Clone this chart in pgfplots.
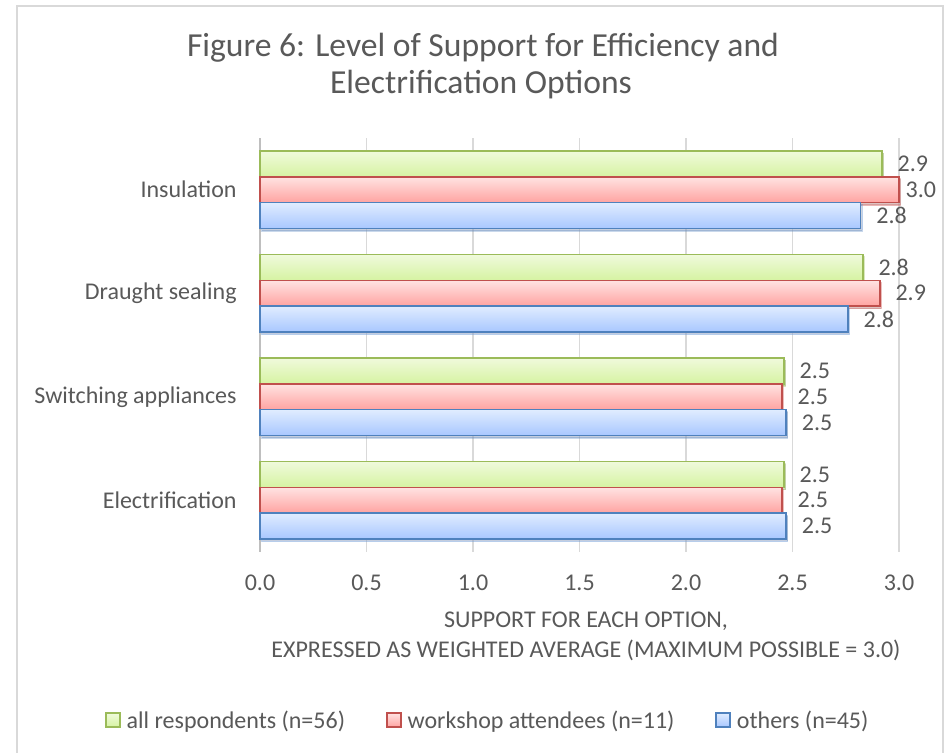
\documentclass[border=0pt]{standalone}
\usepackage{fontspec}
\setmainfont{Carlito}
\usepackage{pgfplots}
\pgfplotsset{compat=1.18}
\usetikzlibrary{shadows}

\definecolor{txt}{HTML}{595959}
\definecolor{gridc}{HTML}{D9D9D9}
\definecolor{axisc}{HTML}{BFBFBF}
\definecolor{frame}{HTML}{D9D9D9}
\definecolor{gline}{HTML}{9BBB59}
\definecolor{gtop}{HTML}{F0FADC}
\definecolor{gbot}{HTML}{D6F3A2}
\definecolor{rline}{HTML}{C0504D}
\definecolor{rtop}{HTML}{FFE3E2}
\definecolor{rbot}{HTML}{FFA3A1}
\definecolor{bline}{HTML}{4F81BD}
\definecolor{btop}{HTML}{E0ECFF}
\definecolor{bbot}{HTML}{A8C7FF}

\tikzset{
  gbar/.style={draw=gline, line width=0.75pt, top color=gtop, bottom color=gbot},
  rbar/.style={draw=rline, line width=0.75pt, top color=rtop, bottom color=rbot},
  bbar/.style={draw=bline, line width=0.75pt, top color=btop, bottom color=bbot},
  barshadow/.style={drop shadow={shadow xshift=0.8pt, shadow yshift=-1.2pt, opacity=0.3, fill=black!60}},
  numfmt/.style={/pgf/number format/fixed, /pgf/number format/fixed zerofill,
    /pgf/number format/precision=1, /pgf/number format/assume math mode=true},
}
% one bar per plot, so every bar gets its own vertical gradient
\pgfplotsset{
  allbar/.style={gbar, barshadow, bar shift=0.25, forget plot},
  wsbar/.style={rbar, barshadow, bar shift=0, forget plot},
  otbar/.style={bbar, barshadow, bar shift=-0.25, forget plot},
}

\begin{document}
\begin{tikzpicture}
\useasboundingbox (0pt,0pt) rectangle (475pt,376.5pt);
\fill[white] (0pt,0pt) rectangle (475pt,376.5pt);
\draw[frame, line width=0.75pt] (8.5pt,-3pt) rectangle (471.5pt,373.5pt);

% title
\node[anchor=base, text=txt, font=\fontsize{16.8}{20}\selectfont] at (241.5pt,348pt)
  {Figure 6: Level of Support for Efficiency and};
\node[anchor=base, text=txt, font=\fontsize{16.8}{20}\selectfont] at (240.5pt,329.5pt)
  {Electrification Options};

\begin{axis}[
  at={(130pt,100.5pt)}, anchor=south west,
  scale only axis, width=319.5pt, height=207pt,
  xbar, bar width=0.25,
  xmin=0, xmax=3, ymin=-0.5, ymax=3.5,
  xtick={0,0.5,...,3},
  ytick={0,1,2,3},
  yticklabels={Electrification, Switching appliances, Draught sealing, Insulation},
  xticklabel style={numfmt, anchor=center, yshift=-15.5pt, text=txt, font=\fontsize{12}{14}\selectfont},
  yticklabel style={anchor=east, inner sep=0pt, xshift=-11.5pt, text=txt, font=\fontsize{12}{14}\selectfont},
  major tick length=0pt,
  xmajorgrids, grid style={gridc, line width=0.75pt},
  axis lines*=left,
  x axis line style={draw=none},
  y axis line style={draw=axisc, line width=0.75pt, -},
  clip=false,
  nodes near coords,
  every node near coord/.append style={numfmt, anchor=west, inner sep=0pt, xshift=7.5pt, text=txt, font=\fontsize{12}{14}\selectfont},
  legend columns=3,
  legend style={at={(0.355,-0.406)}, anchor=center, draw=none, fill=none,
    font=\fontsize{12}{14}\selectfont, text=txt,
    /tikz/every odd column/.append style={column sep=3pt},
    /tikz/every even column/.append style={column sep=20.5pt},
    nodes={inner sep=0pt, text depth=0pt}},
  legend cell align=left,
]
% all respondents (n=56)
\addplot[allbar] coordinates {(2.92,3)};
\addplot[allbar] coordinates {(2.83,2)};
\addplot[allbar] coordinates {(2.46,1)};
\addplot[allbar] coordinates {(2.46,0)};
% workshop attendees (n=11); the label of the full-score bar sits closer to it
\addplot[wsbar, every node near coord/.append style={xshift=-4.5pt}] coordinates {(3.00,3)};
\addplot[wsbar] coordinates {(2.91,2)};
\addplot[wsbar] coordinates {(2.45,1)};
\addplot[wsbar] coordinates {(2.45,0)};
% others (n=45)
\addplot[otbar] coordinates {(2.82,3)};
\addplot[otbar] coordinates {(2.76,2)};
\addplot[otbar] coordinates {(2.47,1)};
\addplot[otbar] coordinates {(2.47,0)};

\addlegendimage{legend image code/.code={\draw[gbar] (0pt,-3.5pt) rectangle (7pt,3.5pt);}}
\addlegendimage{legend image code/.code={\draw[rbar] (0pt,-3.5pt) rectangle (7pt,3.5pt);}}
\addlegendimage{legend image code/.code={\draw[bbar] (0pt,-3.5pt) rectangle (7pt,3.5pt);}}
\legend{all respondents (n=56), workshop attendees (n=11), others (n=45)}
\end{axis}

% axis title
\node[anchor=base, text=txt, font=\fontsize{12}{14}\selectfont] at (293pt,62.5pt)
  {SUPPORT FOR EACH OPTION,};
\node[anchor=base, text=txt, font=\fontsize{12}{14}\selectfont] at (293pt,47.5pt)
  {EXPRESSED AS WEIGHTED AVERAGE (MAXIMUM POSSIBLE = 3.0)};
\end{tikzpicture}
\end{document}
